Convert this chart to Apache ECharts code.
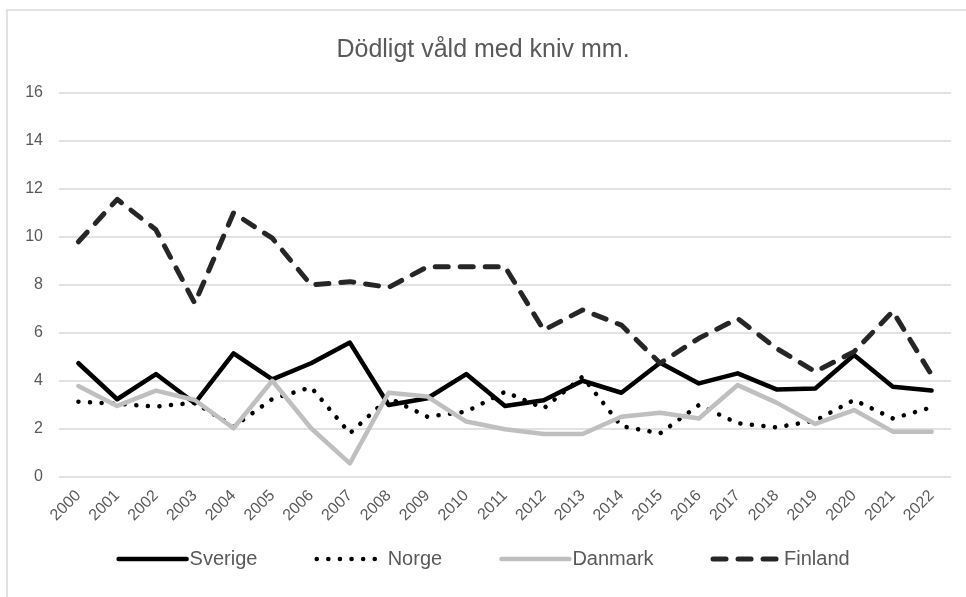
<!DOCTYPE html>
<html>
<head>
<meta charset="utf-8">
<style>
  html, body { margin: 0; padding: 0; background: #fff; }
  #chart { width: 966px; height: 597px; }
</style>
<script src="https://cdn.jsdelivr.net/npm/echarts@6/dist/echarts.min.js"></script>
</head>
<body>
<div id="chart"></div>
<script>
const years = ['2000', '2001', '2002', '2003', '2004', '2005', '2006', '2007', '2008', '2009', '2010', '2011',
  '2012', '2013', '2014', '2015', '2016', '2017', '2018', '2019', '2020', '2021', '2022'];

const sverige = [4.74, 3.24, 4.29, 3.07, 5.15, 4.07, 4.74, 5.6, 3.0, 3.28, 4.29, 2.96,
  3.2, 4.01, 3.51, 4.76, 3.9, 4.32, 3.65, 3.69, 5.08, 3.76, 3.6];
const norge = [3.14, 3.05, 2.93, 3.1, 2.1, 3.25, 3.74, 1.82, 3.3, 2.51, 2.72, 3.55,
  2.86, 4.18, 2.12, 1.82, 3.0, 2.24, 2.07, 2.35, 3.21, 2.44, 2.9];
const danmark = [3.79, 2.96, 3.6, 3.21, 2.03, 4.01, 2.03, 0.57, 3.51, 3.35, 2.31, 1.99,
  1.79, 1.79, 2.51, 2.68, 2.44, 3.83, 3.1, 2.21, 2.79, 1.89, 1.89];
const finland = [9.8, 11.57, 10.3, 7.24, 11.0, 9.95, 8.0, 8.14, 7.9, 8.76, 8.76, 8.76,
  6.12, 6.96, 6.33, 4.74, 5.78, 6.6, 5.36, 4.39, 5.22, 6.9, 4.25];

const chart = echarts.init(document.getElementById('chart'));
const font = 'Liberation Sans, Arial, sans-serif';
const grey = '#595959';

// line looks, shared by series and legend icons
const looks = {
  Sverige: { color: '#000000', width: 4.5, type: 'solid' },
  Norge: { color: '#000000', width: 4.5, type: [0.1, 11.5] },
  Danmark: { color: '#bfbfbf', width: 4.5, type: 'solid' },
  Finland: { color: '#262626', width: 5, type: [13, 12] }
};

const mkLine = (name, data) => ({
  name,
  type: 'line',
  data,
  symbol: 'none',
  animation: false,
  lineStyle: { ...looks[name], cap: 'round', join: 'round' },
  itemStyle: { color: looks[name].color }
});

const option = {
  backgroundColor: '#fff',
  title: {
    text: 'Dödligt våld med kniv mm.',
    left: 'center',
    top: 33,
    textStyle: { fontFamily: font, fontSize: 25, fontWeight: 'normal', color: grey }
  },
  graphic: [{
    type: 'rect',
    shape: { x: 7, y: 10, width: 1000, height: 700 },
    style: { fill: 'none', stroke: '#d9d9d9', lineWidth: 1.5 },
    silent: true
  }],
  legend: {
    left: 'center',
    top: 544,
    itemWidth: 68,
    itemHeight: 22,
    itemGap: 57,
    textStyle: { fontFamily: font, fontSize: 20, color: grey, padding: [0, 0, 0, -2] },
    data: ['Sverige', 'Norge', 'Danmark', 'Finland'].map(n => ({
      name: n,
      itemStyle: { opacity: 0 },
      lineStyle: { ...looks[n], cap: 'round' }
    }))
  },
  grid: { left: 59, right: 15, top: 93, bottom: 120 },
  xAxis: {
    type: 'category',
    data: years,
    boundaryGap: true,
    axisLine: { show: false },
    axisTick: { show: false },
    axisLabel: {
      rotate: 45,
      interval: 0,
      margin: 16,
      fontFamily: font,
      fontSize: 16,
      color: grey
    }
  },
  yAxis: {
    type: 'value',
    min: 0,
    max: 16,
    interval: 2,
    axisLine: { show: false },
    axisTick: { show: false },
    axisLabel: { margin: 16, fontFamily: font, fontSize: 16, color: grey },
    splitLine: { lineStyle: { color: '#d9d9d9', width: 1.5 } }
  },
  series: ['Sverige', 'Norge', 'Danmark', 'Finland'].map((n, i) =>
    mkLine(n, [sverige, norge, danmark, finland][i]))
};

chart.setOption(option);
</script>
</body>
</html>
